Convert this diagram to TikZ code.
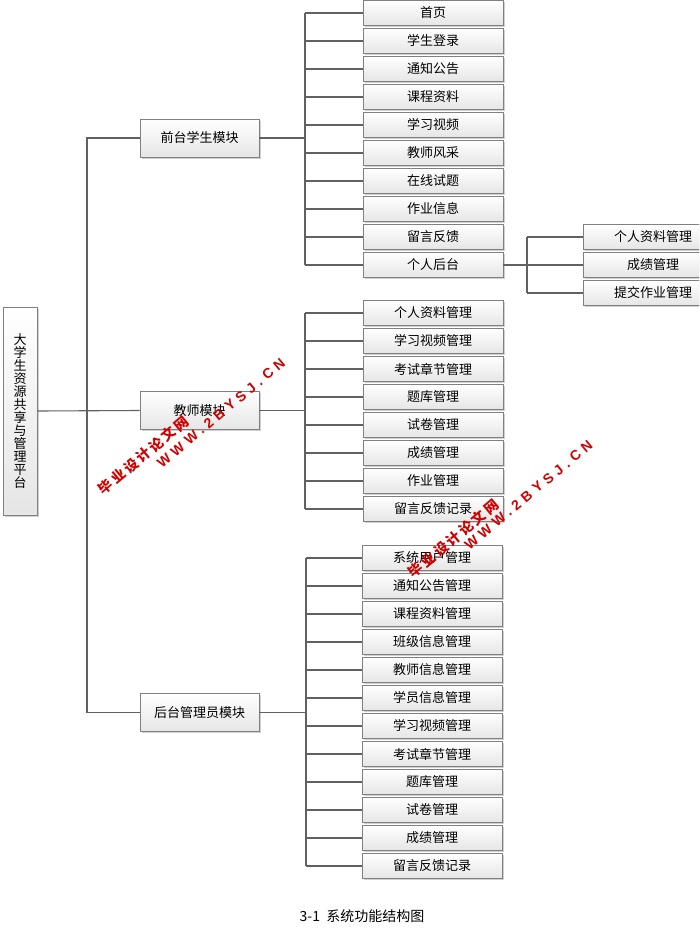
\documentclass[tikz,border=0pt]{standalone}
\usepackage{fontspec}
\setmainfont{Noto Sans CJK SC}
\newfontfamily\wmfont[LetterSpace=17]{Noto Sans CJK SC}
\newfontfamily\wmlat[LetterSpace=33]{Liberation Sans}
\usetikzlibrary{shadows}
\begin{document}
\begin{tikzpicture}[x=1pt,y=-1pt,
  box/.style={rectangle, draw=black!50, line width=0.9pt, top color=white, bottom color=black!10,
    drop shadow={shadow xshift=1.6pt, shadow yshift=-1.6pt, fill=black!30, opacity=0.6},
    inner sep=0pt, font=\fontsize{13}{13}\selectfont},
  leaf/.style={box, minimum width=140pt, minimum height=25pt},
  mod/.style={box, minimum width=119pt, minimum height=38pt},
  link/.style={draw=black!62, line width=1.1pt},
  wm/.style={text=red!82!black, rotate=40, inner sep=0pt}]
\clip (0,0) rectangle (699,933);
\fill[white] (0,0) rectangle (699,933);

% root and modules
\node[box, minimum width=34pt, minimum height=208pt, align=center] (root) at (20,411)
  {大\\学\\生\\资\\源\\共\\享\\与\\管\\理\\平\\台};
\node[mod] (front) at (199.5,138) {前台学生模块};
\node[mod] (teacher) at (199.5,410.5) {教师模块};
\node[mod] (admin) at (199.5,712.5) {后台管理员模块};

% leaves
\foreach \t [count=\i] in {首页,学生登录,通知公告,课程资料,学习视频,教师风采,在线试题,作业信息,留言反馈,个人后台}
  \node[leaf] (f\i) at (433,{13+28*(\i-1)}) {\t};
\foreach \t [count=\i] in {个人资料管理,学习视频管理,考试章节管理,题库管理,试卷管理,成绩管理,作业管理,留言反馈记录}
  \node[leaf] (t\i) at (433,{313+28*(\i-1)}) {\t};
\foreach \t [count=\i] in {系统用户管理,通知公告管理,课程资料管理,班级信息管理,教师信息管理,学员信息管理,学习视频管理,考试章节管理,题库管理,试卷管理,成绩管理,留言反馈记录}
  \node[leaf] (a\i) at (432,{558+28*(\i-1)}) {\t};
\foreach \t [count=\i] in {个人资料管理,成绩管理,提交作业管理}
  \node[leaf] (p\i) at (653,{237+28*(\i-1)}) {\t};

% bus coordinates
\coordinate (spine) at (87,0);
\coordinate (fbus) at (305,0);
\coordinate (tbus) at (305,0);
\coordinate (abus) at (306,0);
\coordinate (pbus) at (527,0);

% connectors
\draw[link] (root.east) -- (teacher.west);
\draw[link] (front.west) -- (spine |- front.west) -- (spine |- admin.west) -- (admin.west);

\draw[link] (front.east) -- (fbus |- front.east);
\draw[link] (fbus |- f1.west) -- (fbus |- f10.west);
\foreach \i in {1,...,10} \draw[link] (fbus |- f\i.west) -- (f\i.west);

\draw[link] (teacher.east) -- (tbus |- teacher.east);
\draw[link] (tbus |- t1.west) -- (tbus |- t8.west);
\foreach \i in {1,...,8} \draw[link] (tbus |- t\i.west) -- (t\i.west);

\draw[link] (admin.east) -- (abus |- admin.east);
\draw[link] (abus |- a1.west) -- (abus |- a12.west);
\foreach \i in {1,...,12} \draw[link] (abus |- a\i.west) -- (a\i.west);

\draw[link] (f10.east) -- (pbus |- f10.east);
\draw[link] (pbus |- p1.west) -- (pbus |- p3.west);
\foreach \i in {1,...,3} \draw[link] (pbus |- p\i.west) -- (p\i.west);

% caption
\node[font=\fontsize{14}{14}\selectfont] (cap) at (362,916) {3-1\ \ 系统功能结构图};

% watermarks
\node[wm, font=\wmfont\bfseries\fontsize{14}{14}\selectfont] (wm1a) at (143.5,455) {毕业设计论文网};
\node[wm, font=\wmlat\bfseries\fontsize{14}{14}\selectfont] (wm1b) at (221,413) {WWW.2BYSJ.CN};
\node[wm, font=\wmfont\bfseries\fontsize{14}{14}\selectfont] (wm2a) at (453.5,538.5) {毕业设计论文网};
\node[wm, font=\wmlat\bfseries\fontsize{14}{14}\selectfont] (wm2b) at (528.5,495) {WWW.2BYSJ.CN};
\end{tikzpicture}
\end{document}
